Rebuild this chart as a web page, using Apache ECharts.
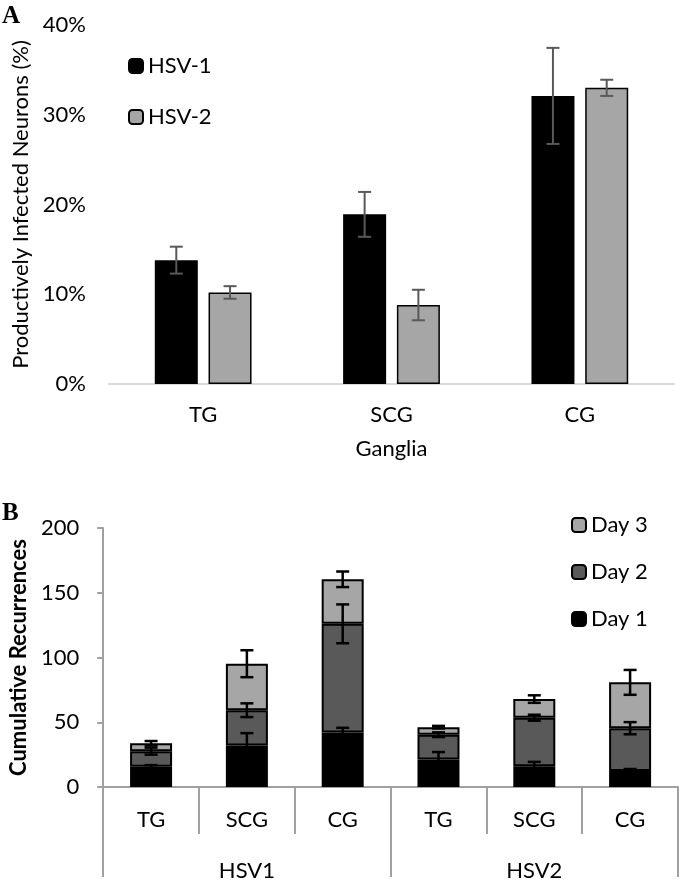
<!DOCTYPE html>
<html>
<head>
<meta charset="utf-8">
<script src="https://cdn.jsdelivr.net/npm/echarts@6/dist/echarts.min.js"></script>
<style>
html,body{margin:0;padding:0;background:#fff;}
#chart{width:680px;height:882px;}
</style>
</head>
<body>
<div id="chart"></div>
<script>
// ---------- Panel A data ----------
const gangliaCats = ['TG', 'SCG', 'CG'];
const hsv1Pct = [13.8, 18.9, 32.1];
const hsv1PctErr = [1.5, 2.5, 5.35];
const hsv2Pct = [10.2, 8.8, 33.0];
const hsv2PctErr = [0.7, 1.7, 0.9];

// ---------- Panel B data ----------
const recurCats = ['TG', 'SCG', 'CG', 'TG', 'SCG', 'CG'];
const virusGroups = ['HSV1', 'HSV2'];
const day1 = [15.6, 32.0, 42.1, 21.2, 16.1, 12.3];
const day1Err = [1.3, 9.6, 3.6, 5.8, 3.3, 1.6];
const day2 = [12.1, 27.3, 83.9, 19.2, 37.4, 33.1];
const day2Err = [2.7, 5.3, 15.0, 1.8, 2.3, 4.7];
const day3 = [6.1, 35.9, 34.4, 5.8, 14.4, 35.4];
const day3Err = [1.7, 10.4, 6.0, 1.0, 2.9, 9.6];

const FONT = 'Lato';
const FS = 22;

const cum2 = day1.map((v, i) => v + day2[i]);
const cum3 = cum2.map((v, i) => v + day3[i]);

function errRender(shift, color, lw, hw) {
  return function (params, api) {
    const x = api.value(0), m = api.value(1), e = api.value(2);
    const top = api.coord([x, m + e]);
    const bot = api.coord([x, m - e]);
    const cx = top[0] + shift;
    const st = { stroke: color, lineWidth: lw };
    return {
      type: 'group',
      children: [
        { type: 'line', shape: { x1: cx, y1: top[1], x2: cx, y2: bot[1] }, style: st },
        { type: 'line', shape: { x1: cx - hw, y1: top[1], x2: cx + hw, y2: top[1] }, style: st },
        { type: 'line', shape: { x1: cx - hw, y1: bot[1], x2: cx + hw, y2: bot[1] }, style: st }
      ]
    };
  };
}

const barWA = 43, gapA = 0.25;
const offA = barWA * (1 + gapA) / 2;

const chart = echarts.init(document.getElementById('chart'), null, { renderer: 'canvas' });
chart.setOption({
  animation: false,
  textStyle: { fontFamily: FONT },
  graphic: [
    { type: 'text', left: 2, top: 4, style: { text: 'A', font: 'bold 25px "Liberation Serif"', fill: '#000' } },
    { type: 'text', left: 2, top: 501, style: { text: 'B', font: 'bold 25px "Liberation Serif"', fill: '#000' } }
  ],
  legend: [
    {
      orient: 'vertical', left: 123, top: 50, itemWidth: 14, itemHeight: 14, itemGap: 29,
      data: ['HSV-1', 'HSV-2'],
      textStyle: { fontFamily: FONT, fontSize: FS, color: '#000' }
    },
    {
      orient: 'vertical', left: 566, top: 509, itemWidth: 14, itemHeight: 14, itemGap: 25,
      data: ['Day 3', 'Day 2', 'Day 1'],
      textStyle: { fontFamily: FONT, fontSize: FS, color: '#000' }
    }
  ],
  grid: [
    { left: 109, top: 25, width: 565, height: 359 },
    { left: 92, top: 528, width: 586, height: 264 }
  ],
  xAxis: [
    {
      type: 'category', gridIndex: 0, data: gangliaCats,
      axisLine: { lineStyle: { color: '#d9d9d9', width: 2 } },
      axisTick: { show: false },
      axisLabel: { margin: 20, fontFamily: FONT, fontSize: FS, color: '#000' },
      name: 'Ganglia', nameLocation: 'middle', nameGap: 54,
      nameTextStyle: { fontFamily: FONT, fontSize: FS, color: '#000' }
    },
    {
      type: 'category', gridIndex: 1, data: recurCats,
      axisLine: { lineStyle: { color: '#a0a0a0', width: 2 } },
      axisTick: { show: true, interval: 0, length: 47, lineStyle: { color: '#a0a0a0', width: 2 } },
      axisLabel: { margin: 22, interval: 0, fontFamily: FONT, fontSize: FS, color: '#000' }
    },
    {
      type: 'category', gridIndex: 1, data: virusGroups, position: 'bottom',
      axisLine: { show: false },
      axisTick: { show: true, interval: 0, length: 90, lineStyle: { color: '#a0a0a0', width: 2 } },
      axisLabel: { margin: 73, fontFamily: FONT, fontSize: FS, color: '#000' }
    }
  ],
  yAxis: [
    {
      type: 'value', gridIndex: 0, min: 0, max: 40, interval: 10,
      axisLine: { show: false }, axisTick: { show: false }, splitLine: { show: false },
      axisLabel: { formatter: '{value}%', margin: 23, fontFamily: FONT, fontSize: FS, color: '#000' },
      name: 'Productively Infected Neurons (%)', nameLocation: 'middle', nameGap: 72, nameRotate: 90,
      nameTextStyle: { fontFamily: FONT, fontSize: FS, color: '#000' }
    },
    {
      type: 'value', gridIndex: 1, min: 0, max: 200, interval: 50,
      axisLine: { show: true, lineStyle: { color: '#a0a0a0', width: 2 } },
      axisTick: { show: true, length: 6, lineStyle: { color: '#a0a0a0', width: 2 } },
      splitLine: { show: false },
      axisLabel: { margin: 24, fontFamily: FONT, fontSize: FS, color: '#000' },
      name: 'Cumulative Recurrences', nameLocation: 'middle', nameGap: 70, nameRotate: 90,
      nameTextStyle: { fontFamily: FONT, fontSize: FS, fontWeight: 'bold', color: '#000' }
    }
  ],
  series: [
    {
      name: 'HSV-1', type: 'bar', xAxisIndex: 0, yAxisIndex: 0, data: hsv1Pct,
      barWidth: barWA, barGap: (gapA * 100) + '%',
      itemStyle: { color: '#000000', borderColor: '#000', borderWidth: 1.5 }
    },
    {
      name: 'HSV-2', type: 'bar', xAxisIndex: 0, yAxisIndex: 0, data: hsv2Pct,
      barWidth: barWA, barGap: (gapA * 100) + '%',
      itemStyle: { color: '#a6a6a6', borderColor: '#000', borderWidth: 1.5 }
    },
    {
      type: 'custom', xAxisIndex: 0, yAxisIndex: 0, z: 10,
      data: hsv1Pct.map((v, i) => [i, v, hsv1PctErr[i]]),
      encode: { x: 0, y: 1 },
      renderItem: errRender(-offA, '#595959', 2, 6.5)
    },
    {
      type: 'custom', xAxisIndex: 0, yAxisIndex: 0, z: 10,
      data: hsv2Pct.map((v, i) => [i, v, hsv2PctErr[i]]),
      encode: { x: 0, y: 1 },
      renderItem: errRender(offA, '#595959', 2, 6.5)
    },
    {
      name: 'Day 1', type: 'bar', stack: 'rec', xAxisIndex: 1, yAxisIndex: 1, data: day1,
      barWidth: 42,
      itemStyle: { color: '#000000', borderColor: '#000', borderWidth: 2 }
    },
    {
      name: 'Day 2', type: 'bar', stack: 'rec', xAxisIndex: 1, yAxisIndex: 1, data: day2,
      barWidth: 42,
      itemStyle: { color: '#595959', borderColor: '#000', borderWidth: 2 }
    },
    {
      name: 'Day 3', type: 'bar', stack: 'rec', xAxisIndex: 1, yAxisIndex: 1, data: day3,
      barWidth: 42,
      itemStyle: { color: '#a6a6a6', borderColor: '#000', borderWidth: 2 }
    },
    {
      type: 'custom', xAxisIndex: 1, yAxisIndex: 1, z: 10,
      data: day1.map((v, i) => [i, v, day1Err[i]]),
      encode: { x: 0, y: 1 },
      renderItem: errRender(0, '#000', 2.5, 6.5)
    },
    {
      type: 'custom', xAxisIndex: 1, yAxisIndex: 1, z: 10,
      data: cum2.map((v, i) => [i, v, day2Err[i]]),
      encode: { x: 0, y: 1 },
      renderItem: errRender(0, '#000', 2.5, 6.5)
    },
    {
      type: 'custom', xAxisIndex: 1, yAxisIndex: 1, z: 10,
      data: cum3.map((v, i) => [i, v, day3Err[i]]),
      encode: { x: 0, y: 1 },
      renderItem: errRender(0, '#000', 2.5, 6.5)
    }
  ]
});
</script>
</body>
</html>
